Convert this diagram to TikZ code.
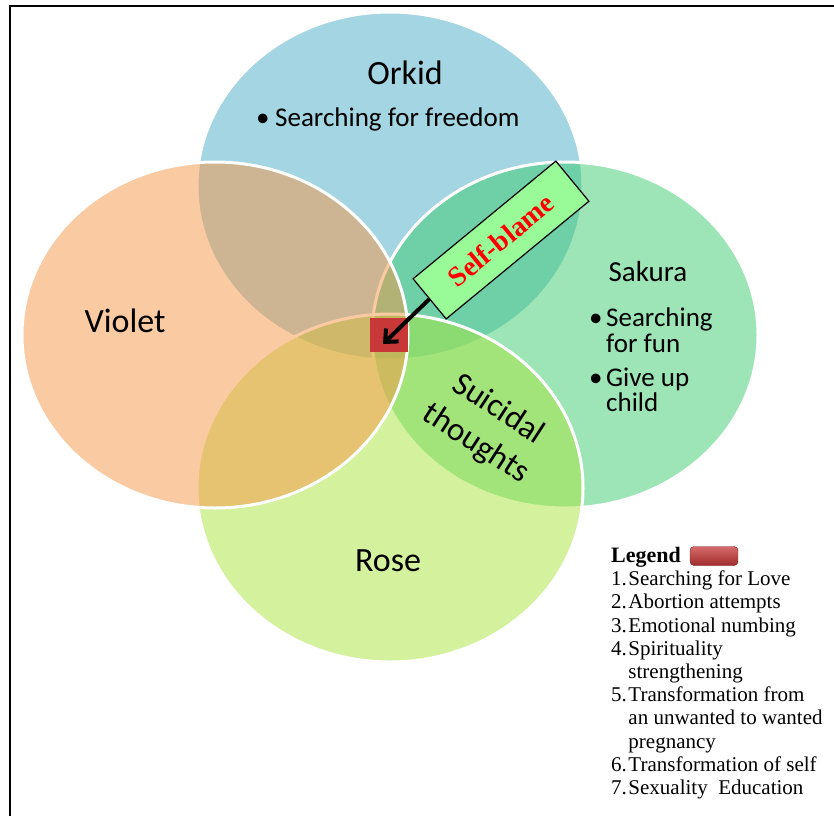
\documentclass[tikz,border=0pt]{standalone}
\usepackage{fontspec}
\setmainfont{Liberation Serif}
\newfontfamily\calib{Carlito}
\usetikzlibrary{arrows.meta}
\definecolor{orkidc}{RGB}{75,172,198}
\definecolor{violetc}{RGB}{247,150,70}
\definecolor{sakurac}{RGB}{60,205,112}
\definecolor{rosec}{RGB}{170,228,62}
\definecolor{markred}{RGB}{200,56,56}
\definecolor{blamegreen}{RGB}{152,251,152}
\begin{document}
\begin{tikzpicture}[x=1pt,y=-1pt,
  venn/.style={draw=white, line width=3pt, fill opacity=0.5},
  title/.style={font=\calib\fontsize{34}{40}\selectfont, inner sep=0pt},
  bul/.style={font=\calib\fontsize{27}{32}\selectfont, inner sep=0pt, anchor=base west},
  blamebox/.style={draw=black, line width=1.2pt, fill=blamegreen, minimum width=185pt,
    minimum height=52pt, inner sep=0pt, text=red, font=\bfseries\fontsize{28}{32}\selectfont},
  legendtext/.style={font=\fontsize{21}{23.2}\selectfont, inner sep=0pt}]
\useasboundingbox (0,0) rectangle (834,816);
\fill[white] (0,0) rectangle (834,816);
% frame
\draw[line width=2pt] (834,6) -- (10,6) -- (10,816);

% the four overlapping sets, back to front
\draw[venn, fill=orkidc]  (390,186) ellipse [x radius=193, y radius=174];
\draw[venn, fill=sakurac] (565,335) ellipse [x radius=193, y radius=173];
\draw[venn, fill=rosec]   (390,488) ellipse [x radius=193, y radius=174];
\draw[venn, fill=violetc] (215,335) ellipse [x radius=193, y radius=173];

% shared theme marker
\node[fill=markred, minimum width=38pt, minimum height=34pt, inner sep=0pt] (mark) at (389,335) {};

% callout
\node[blamebox, rotate=39.5] (blame) at (501,240) {Self-blame};
\coordinate (tip) at (383,344);
\draw[line width=4pt, -{Straight Barb[length=10pt, width=18pt]}] (blame.west) -- (tip);

% set labels
\node[title] (orkid) at (405,73) {Orkid};
\node[bul] (ob) at (256,126) {•};
\node[bul] (ot) at (275,126) {Searching for freedom};

\node[title] (violet) at (125,321) {Violet};

\node[title, font=\calib\fontsize{29}{34}\selectfont] (sakura) at (648,272) {Sakura};
\node[bul] (sb1) at (589,326) {•};
\node[bul] (st1) at (606,326) {Searching};
\node[bul] (st2) at (606,352) {for fun};
\node[bul] (sb2) at (589,386) {•};
\node[bul] (st3) at (606,386) {Give up};
\node[bul] (st4) at (606,411) {child};

\node[title] (rose) at (388,561) {Rose};

\node[font=\calib\fontsize{33}{41}\selectfont, align=center, rotate=-33, inner sep=0pt] (suicide) at (487,427) {Suicidal\\thoughts};

% legend
\node[legendtext, anchor=base west, font=\bfseries\fontsize{22}{24}\selectfont] (legend) at (611,562) {Legend};
\node[draw=markred!60!black, rounded corners=4pt, top color=markred!75!white, bottom color=markred!80!black,
  minimum width=48pt, minimum height=19pt, inner sep=0pt] (legendkey) at (714,556) {};
\node[legendtext, anchor=north west] (items) at (611,569.3) {%
  \begin{tabular}{@{}l@{\hspace{1.5pt}}l@{}}
  1. & Searching for Love\\
  2. & Abortion attempts\\
  3. & Emotional numbing\\
  4. & Spirituality\\
     & strengthening\\
  5. & Transformation from\\
     & an unwanted to wanted\\
     & pregnancy\\
  6. & Transformation of self\\
  7. & Sexuality\ \ Education
  \end{tabular}};
\end{tikzpicture}
\end{document}
